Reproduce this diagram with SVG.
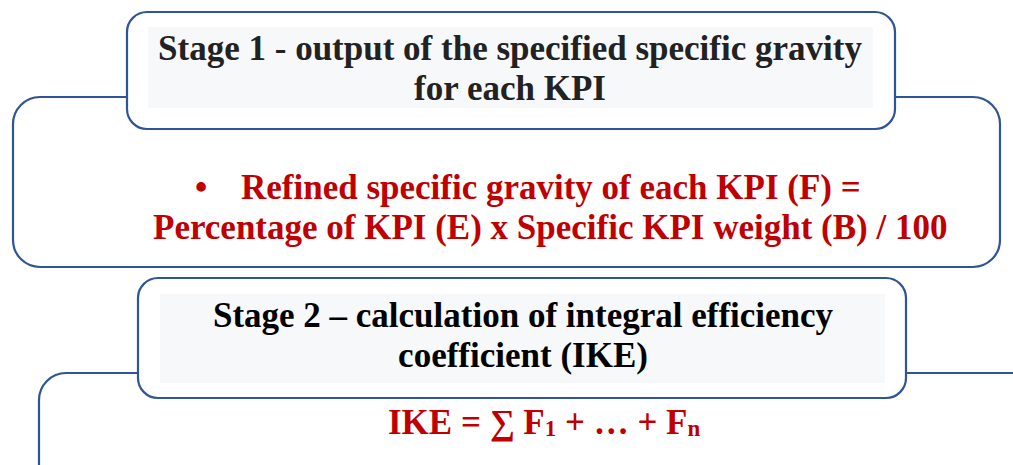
<svg xmlns="http://www.w3.org/2000/svg" width="1013" height="465" viewBox="0 0 1013 465">
<style>
.frame{fill:#ffffff;stroke:#2F5597;stroke-width:2.2}
.band{fill:#F7F8FA}
.title{font-family:'Liberation Serif','Times New Roman',serif;font-weight:bold;font-size:35px;text-anchor:middle}
.red{font-family:'Liberation Serif','Times New Roman',serif;font-weight:bold;font-size:35px;fill:#C00000}
.sub{font-size:23px}
</style>
<g id="connectors">
</g>
<g id="stage1-body">
<rect class="frame" x="13" y="97" width="987" height="170" rx="27" ry="27"/>
<text class="red" x="195" y="199">•</text>
<text class="red" x="241" y="199">Refined specific gravity of each KPI (F) =</text>
<text class="red" x="153" y="239">Percentage of KPI (E) x Specific KPI weight (B) / 100</text>
</g>
<g id="stage1-header">
<rect class="frame" x="127" y="12" width="768" height="117" rx="20" ry="20"/>
<rect class="band" x="148" y="27" width="725" height="81"/>
<text class="title" x="510" y="60" fill="#222222">Stage 1 - output of the specified specific gravity</text>
<text class="title" x="510" y="100" fill="#222222">for each KPI</text>
</g>
<g id="stage2-body">
<rect class="frame" x="39" y="373" width="1010" height="140" rx="27" ry="27"/>
<text class="red" x="388" y="434">IKE = ∑ F<tspan class="sub" dy="2">1</tspan><tspan dy="-2"> + … + F</tspan><tspan class="sub" dy="2">n</tspan></text>
</g>
<g id="stage2-header">
<rect class="frame" x="138" y="278" width="768" height="120" rx="20" ry="20"/>
<rect class="band" x="160" y="294" width="725" height="89"/>
<text class="title" x="523" y="327" fill="#000000">Stage 2 – calculation of integral efficiency</text>
<text class="title" x="523" y="367" fill="#000000">coefficient (IKE)</text>
</g>
</svg>
